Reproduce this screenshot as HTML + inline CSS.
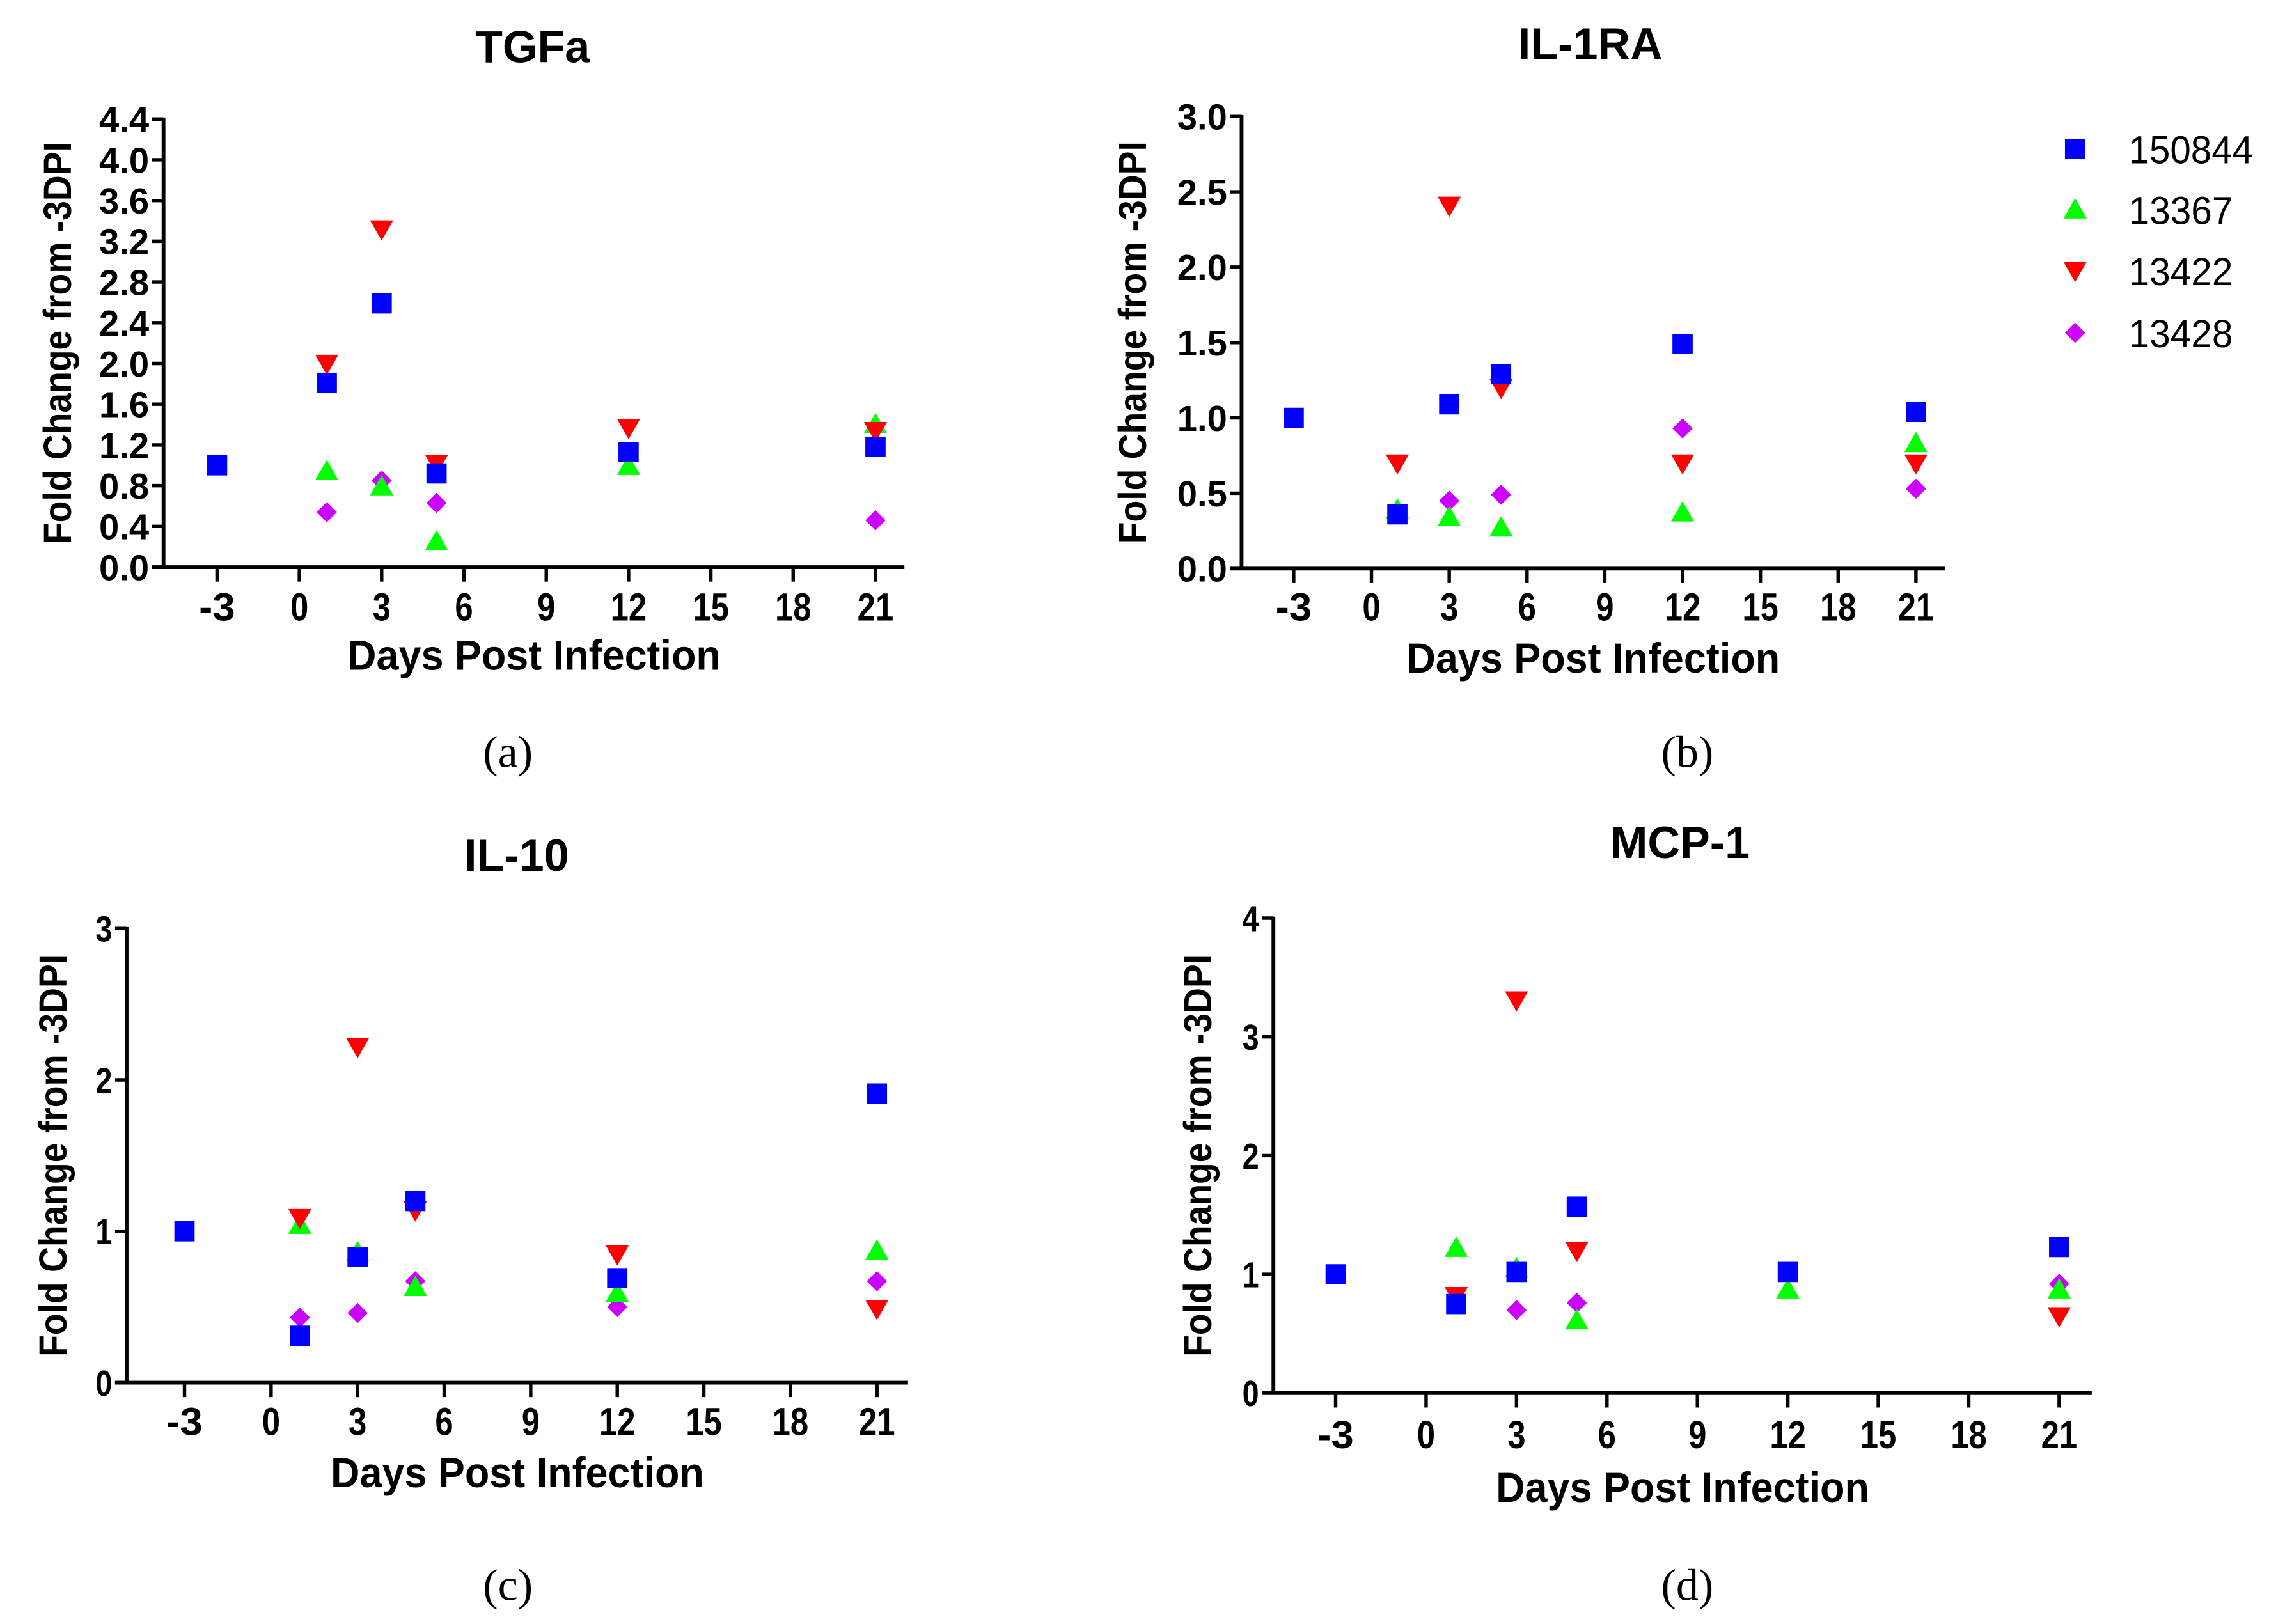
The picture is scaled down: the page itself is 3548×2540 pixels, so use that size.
<!DOCTYPE html>
<html><head><meta charset="utf-8"><style>
html,body{margin:0;padding:0;background:#fff}
svg{display:block}
text{font-family:"Liberation Sans",Arial,sans-serif}
</style></head><body>
<svg id="fig" width="3548" height="2540" viewBox="0 0 1568 1122.5" xmlns="http://www.w3.org/2000/svg">
<rect width="1568" height="1122.5" fill="#fff"/>
<g id="legend">
 <rect x="1427" y="96" width="14" height="14" fill="#0000ff"/>
 <text x="1471" y="113" font-size="27" textLength="86" lengthAdjust="spacingAndGlyphs">150844</text>
 <polygon points="1434,137 1442,151 1426,151" fill="#00ff00"/>
 <text x="1471" y="155" font-size="27" textLength="72" lengthAdjust="spacingAndGlyphs">13367</text>
 <polygon points="1426,181 1442,181 1434,195" fill="#ff0000"/>
 <text x="1471" y="197" font-size="27" textLength="72" lengthAdjust="spacingAndGlyphs">13422</text>
 <polygon points="1434,223 1441,230 1434,237 1427,230" fill="#cc00ff"/>
 <text x="1471" y="240" font-size="27" textLength="72" lengthAdjust="spacingAndGlyphs">13428</text>
</g>
</svg>
<script>
const days = [-3, 1, 3, 5, 12, 21];
const xTicks = [-3, 0, 3, 6, 9, 12, 15, 18, 21];
// Panel a: TGFa
const tgfaBlue   = [1.0, 1.81, 2.59, 0.92, 1.13, 1.18];
const tgfaGreen  = [null, 0.94, 0.79, 0.25, 0.99, 1.40];
const tgfaRed    = [null, 2.0, 3.32, 1.02, 1.37, 1.34];
const tgfaPurple = [null, 0.54, 0.85, 0.63, null, 0.46];
const tgfaYTicks = ["0.0","0.4","0.8","1.2","1.6","2.0","2.4","2.8","3.2","3.6","4.0","4.4"];
// Panel b: IL-1RA
const il1raBlue   = [1.0, 0.36, 1.09, 1.29, 1.49, 1.04];
const il1raGreen  = [null, 0.39, 0.34, 0.27, 0.37, 0.83];
const il1raRed    = [null, 0.70, 2.41, 1.20, 0.70, 0.70];
const il1raPurple = [null, null, 0.45, 0.49, 0.93, 0.53];
const il1raYTicks = ["0.0","0.5","1.0","1.5","2.0","2.5","3.0"];
// Panel c: IL-10
const il10Blue   = [1.0, 0.31, 0.83, 1.20, 0.69, 1.91];
const il10Green  = [null, 1.04, 0.86, 0.63, 0.59, 0.87];
const il10Red    = [null, 1.09, 2.22, 1.14, 0.85, 0.49];
const il10Purple = [null, 0.43, 0.46, 0.67, 0.50, 0.67];
const il10YTicks = ["0","1","2","3"];
// Panel d: MCP-1
const mcpBlue   = [1.0, 0.75, 1.02, 1.57, 1.02, 1.23];
const mcpGreen  = [null, 1.22, 1.05, 0.61, 0.87, 0.87];
const mcpRed    = [null, 0.82, 3.31, 1.20, null, 0.65];
const mcpPurple = [null, null, 0.70, 0.76, null, 0.92];
const mcpYTicks = ["0","1","2","3","4"];

const NS = "http://www.w3.org/2000/svg";
const svg = document.getElementById("fig");
function mk(tag, attrs, parent){const e=document.createElementNS(NS,tag);for(const k in attrs)e.setAttribute(k,attrs[k]);(parent||svg).appendChild(e);return e;}

const panels = [
 {id:"tgfa", title:"TGFa", tag:"(a)", ax:113, y0:392, yTop:82.3, ymax:4.4, xm3:150, x21:605, xEnd:625, titleX:368, titleY:43, ylabX:39, xlabY:463, tickY:429, tagX:351, tagY:530, yt:tgfaYTicks, s:[tgfaBlue,tgfaGreen,tgfaRed,tgfaPurple]},
 {id:"il1ra", title:"IL-1RA", tag:"(b)", ax:858, y0:393, yTop:80.5, ymax:3.0, xm3:894, x21:1324, xEnd:1344, titleX:1099, titleY:41, ylabX:782, xlabY:465, tickY:429, tagX:1166, tagY:530, yt:il1raYTicks, s:[il1raBlue,il1raGreen,il1raRed,il1raPurple]},
 {id:"il10", title:"IL-10", tag:"(c)", ax:87.5, y0:955.7, yTop:641.8, ymax:3, xm3:127.5, x21:606, xEnd:627.5, titleX:357, titleY:602, ylabX:36, xlabY:1028, tickY:992, tagX:351, tagY:1106, yt:il10YTicks, s:[il10Blue,il10Green,il10Red,il10Purple]},
 {id:"mcp1", title:"MCP-1", tag:"(d)", ax:880, y0:962.9, yTop:634.6, ymax:4, xm3:923, x21:1423, xEnd:1445.5, titleX:1161, titleY:593, ylabX:827, xlabY:1038, tickY:1001, tagX:1166, tagY:1106, yt:mcpYTicks, s:[mcpBlue,mcpGreen,mcpRed,mcpPurple]}
];
const colors = ["#0000ff","#00ff00","#ff0000","#cc00ff"];
const snames = ["150844","13367","13422","13428"];

panels.forEach(p=>{
 const g = mk("g",{});
 
 
 const xs = d => p.xm3 + (d+3)*(p.x21-p.xm3)/24;
 const ys = v => p.y0 - v*(p.y0-p.yTop)/p.ymax;
 const t = mk("text",{x:p.titleX,y:p.titleY,"font-size":31,"font-weight":"bold","text-anchor":"middle"},g);
 t.textContent = p.title;
 
 
 const ya = mk("line",{x1:p.ax,y1:p.yTop-1,x2:p.ax,y2:p.y0,stroke:"#000","stroke-width":2.6},g);
 
 
 const xa = mk("line",{x1:p.ax-8,y1:p.y0,x2:p.xEnd,y2:p.y0,stroke:"#000","stroke-width":2.6},g);
 
 
 const n = p.yt.length-1;
 p.yt.forEach((lab,i)=>{
  const v = p.ymax*i/n, y = ys(v);
  mk("line",{x1:p.ax-8,y1:y,x2:p.ax,y2:y,stroke:"#000","stroke-width":2.4},g);
  const tl = mk("text",{x:p.ax-10,y:y+9,"font-size":25,"font-weight":"bold","text-anchor":"end",textLength:lab.length*11.5,lengthAdjust:"spacingAndGlyphs"},g);
  tl.textContent = lab;
  
  
 });
 xTicks.forEach(d=>{
  const x = xs(d);
  mk("line",{x1:x,y1:p.y0,x2:x,y2:p.y0+10,stroke:"#000","stroke-width":2.4},g);
  const s = String(d);
  const tl = mk("text",{x:x,y:p.tickY,"font-size":27,"font-weight":"bold","text-anchor":"middle",textLength:s.length*12.5,lengthAdjust:"spacingAndGlyphs"},g);
  tl.textContent = s;
  
  
 });
 const yl = mk("text",{x:0,y:0,"font-size":27,"font-weight":"bold","text-anchor":"middle",textLength:278,lengthAdjust:"spacingAndGlyphs",transform:`translate(${p.ylabX+10},${(p.y0+p.yTop)/2}) rotate(-90)`},g);
 yl.textContent = "Fold Change from -3DPI";
 
 
 const xl = mk("text",{x:(p.ax+p.xEnd)/2,y:p.xlabY,"font-size":29,"font-weight":"bold","text-anchor":"middle",textLength:258,lengthAdjust:"spacingAndGlyphs"},g);
 xl.textContent = "Days Post Infection";
 
 
 const tg = mk("text",{x:p.tagX,y:p.tagY,"font-size":31,"text-anchor":"middle"},g);
 tg.setAttribute("style","font-family:'Liberation Serif',serif");
 tg.textContent = p.tag;
 
 
 [3,1,2,0].forEach(si=>{
  p.s[si].forEach((v,i)=>{
   if(v===null) return;
   const x = xs(days[i]), y = ys(v);
   let m;
   if(si===0) m = mk("rect",{x:x-7,y:y-7,width:14,height:14,fill:colors[0]},g);
   else if(si===1) m = mk("polygon",{points:`${x},${y-8} ${x+8},${y+6} ${x-8},${y+6}`,fill:colors[1]},g);
   else if(si===2) m = mk("polygon",{points:`${x-8},${y-6} ${x+8},${y-6} ${x},${y+8}`,fill:colors[2]},g);
   else m = mk("polygon",{points:`${x},${y-7} ${x+7},${y} ${x},${y+7} ${x-7},${y}`,fill:colors[3]},g);
   
   
  });
 });
});
svg.appendChild(document.getElementById("legend"));
</script>
</body></html>
